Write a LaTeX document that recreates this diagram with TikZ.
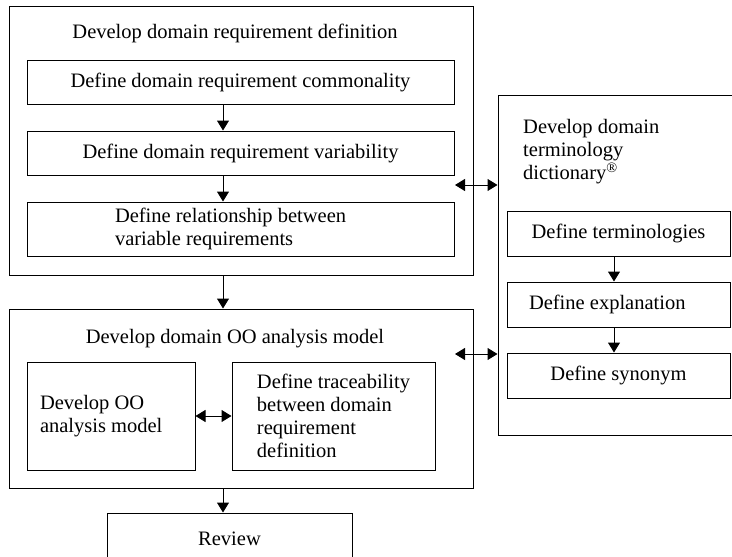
\documentclass[tikz,border=0pt]{standalone}
\usepackage{fontspec}
\setmainfont{Liberation Serif}
\usetikzlibrary{arrows.meta}

\tikzset{
    box/.style={draw, line width=1pt, inner sep=0pt},
    arr/.style={line width=1pt, -{Triangle[length=10pt,width=12pt]}},
    dbl/.style={line width=1pt, {Triangle[length=10pt,width=12pt]}-{Triangle[length=10pt,width=12pt]}}
}

\begin{document}
\begin{tikzpicture}[x=1pt, y=-1pt, font=\fontsize{20.5}{23}\selectfont]
        \clip (0,0) rectangle (732,557);

        % place nodes
        \node[box, minimum width=464, minimum height=269] at (241, 140.5) (dev) {};
        \node at (235, 33)   (devtitle) {Develop domain requirement definition};
        \node[box, minimum width=427, minimum height=44] at (240.5, 82)  (com) {Define domain requirement commonality};
        \node[box, minimum width=427, minimum height=44] at (240.5, 153) (var) {Define domain requirement variability};
        \node[box, minimum width=427, minimum height=54, text width=251, align=flush left] at (240.5, 229) (rel) {Define relationship between\\variable requirements};

        \node[box, minimum width=464, minimum height=179] at (241, 398.5) (oo) {};
        \node at (235, 339)  (ootitle) {Develop domain OO analysis model};
        \node[box, minimum width=168, minimum height=108, text width=142, align=flush left] at (111, 416) (oomod) {Develop OO\\analysis model};
        \node[box, minimum width=203, minimum height=108, align=left] at (333.5, 416) (trace) {Define traceability\\between domain\\requirement\\definition};

        \node[box, minimum width=245, minimum height=52] at (229.5, 539) (review) {Review};

        \node[box, minimum width=272, minimum height=340] at (634, 265) (dict) {};
        \node[anchor=west, align=flush left, inner sep=0pt] at (523, 152) (dicttitle) {Develop domain\\terminology\\dictionary\textsuperscript{®}};
        \node[box, minimum width=223, minimum height=45] at (618.5, 233.5) (term) {Define terminologies};
        \node[box, minimum width=223, minimum height=45, text width=179, align=flush left] at (618.5, 304.5) (expl) {Define explanation};
        \node[box, minimum width=223, minimum height=45] at (618.5, 375.5) (syn) {Define synonym};

        \coordinate (laxis) at (223, 0);
        \coordinate (raxis) at (614, 0);
        \coordinate (tipA) at (455, 185);
        \coordinate (tipB) at (455, 354);

        % draw edges
        \draw[arr] (com.south -| laxis) -- (var.north -| laxis);
        \draw[arr] (var.south -| laxis) -- (rel.north -| laxis);
        \draw[arr] (dev.south -| laxis) -- (oo.north -| laxis);
        \draw[arr] (oo.south -| laxis) -- (review.north -| laxis);
        \draw[dbl] (oomod.east) -- (trace.west);

        \draw[arr] (term.south -| raxis) -- (expl.north -| raxis);
        \draw[arr] (expl.south -| raxis) -- (syn.north -| raxis);

        \draw[dbl] (tipA) -- (dict.west |- tipA);
        \draw[dbl] (tipB) -- (dict.west |- tipB);
    \end{tikzpicture}
\end{document}
